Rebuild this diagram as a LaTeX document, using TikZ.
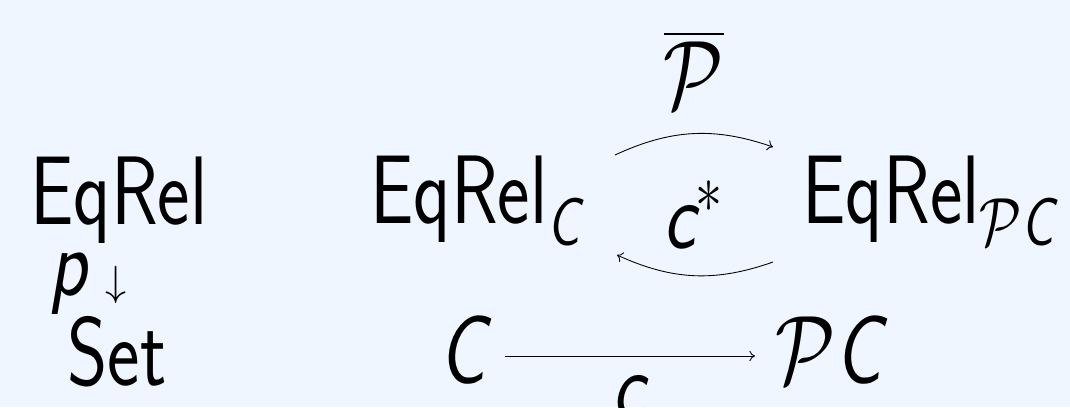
\documentclass[tikz,border=0pt]{standalone}
\usepackage{fix-cm}
\usepackage{amsmath}
\usepackage{graphicx}
\usetikzlibrary{arrows.meta}
\usepackage{xcolor}

\definecolor{slidebg}{RGB}{239,246,255}
\newcommand{\bigfont}{\fontsize{44}{53}\selectfont\sffamily}
\newcommand{\sfit}[1]{\text{\sffamily\itshape #1}}
\newcommand{\cat}[1]{\text{\sffamily #1}}
\newcommand{\tall}[1]{\scalebox{1}[1.26]{#1}}

\begin{document}
\begin{tikzpicture}[x=0.02cm, y=-0.02cm,
  % Node Styles
  obj/.style={inner sep=0pt, anchor=base west, font=\bigfont},
  lbl/.style={inner sep=0pt, anchor=base, font=\bigfont},
  % Arrow Styles
  maparrow/.style={-{To[length=3.2pt, width=6pt]}, line width=0.5pt}
]
\clip (0,0) rectangle (1070,407);
\fill[slidebg] (0,0) rectangle (1070,407);

% left column
\node[obj] (eq) at (30,224) {\tall{EqRel}};
\node[obj] (p) at (49,295) {\tall{\sfit{p}}};
\node[lbl, font=\fontsize{24}{28}\selectfont] (pdown) at (116,295) {$\downarrow$};
\node[obj] (set) at (67,385) {\tall{Set}};

% top row
\node[obj] (ec) at (370,223) {\tall{$\cat{EqRel}_{\sfit{C}}$}};
\node[obj] (epc) at (802,223) {\tall{$\cat{EqRel}_{\mathcal{P}\sfit{C}}$}};
\node[lbl] (pbar) at (694,108) {\tall{$\overline{\mathcal{P}}$}};
\node[obj] (cstar) at (663,248) {\tall{$\sfit{c}^{\ast}$}};

% bottom row
\node[obj] (c) at (439,383) {\tall{$\sfit{C}$}};
\node[obj] (pc) at (775,383) {\tall{$\mathcal{P}\sfit{C}$}};
\node[obj] (clbl) at (612,418) {\tall{$\sfit{c}$}};

\draw[maparrow] ([shift={(245,-68)}]ec.base west) to[bend left=22] ([shift={(-29,-76)}]epc.base west);
\draw[maparrow] ([shift={(-29,39)}]epc.base west) to[bend left=22] ([shift={(247,32)}]ec.base west);
\draw[maparrow] ([shift={(66,-27)}]c.base west) -- ([shift={(-20,-27)}]pc.base west);

\end{tikzpicture}
\end{document}
